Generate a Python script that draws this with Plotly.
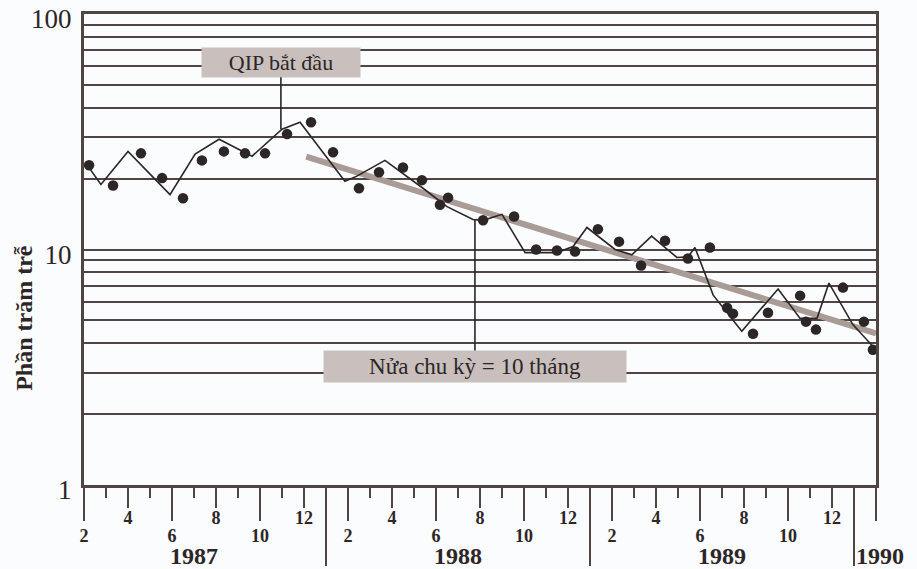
import math
import plotly.graph_objects as go

# ---------------- data ----------------
# x positions are month offsets counted from Feb 1987 (0 = Feb 1987, 36 = Feb 1990)
line_x = [0.05, 0.77, 2.0, 3.91, 5.05, 6.14, 7.64, 9.0, 9.82, 11.86, 12.32, 13.68,
          15.41, 16.5, 17.68, 18.14, 19.0, 20.05, 21.5, 22.23, 22.86, 24.14, 24.9,
          25.8, 26.95, 27.45, 27.77, 28.6, 29.9, 31.55, 32.55, 33.32, 33.86, 34.95, 36.0]
line_y = [23.5, 18.9, 26.1, 17.1, 25.4, 29.4, 24.9, 32.4, 34.7, 19.5, 20.3, 23.9,
          18.2, 15.2, 13.4, 13.3, 14.1, 9.7, 9.7, 10.3, 12.4, 10.0, 9.5,
          11.4, 9.25, 9.3, 10.2, 6.4, 4.5, 6.8, 5.1, 5.1, 7.2, 4.8, 3.75]

dot_x = [0.23, 1.32, 2.59, 3.55, 4.5, 5.36, 6.36, 7.32, 8.23, 9.23, 10.32, 11.32,
         12.5, 13.41, 14.5, 15.36, 16.18, 16.55, 18.14, 19.55, 20.55, 21.5, 22.32,
         23.36, 24.32, 25.32, 26.41, 27.45, 28.45, 29.23, 29.5, 30.41, 31.09, 32.55,
         32.82, 33.27, 34.5, 35.45, 35.86]
dot_y = [22.8, 18.7, 25.6, 20.1, 16.5, 23.9, 26.1, 25.6, 25.6, 30.9, 34.7, 25.9,
         18.2, 21.3, 22.3, 19.7, 15.5, 16.6, 13.3, 13.8, 10.0, 9.9, 9.8,
         12.2, 10.8, 8.55, 10.9, 9.16, 10.2, 5.66, 5.34, 4.39, 5.39, 6.37,
         4.94, 4.57, 6.89, 4.94, 3.75]

trend_x = [10.1, 36.0]
trend_y = [24.8, 4.4]

years = [1987, 1988, 1989]
upper_months = [4, 8, 12]        # labels on the short ticks
lower_months = [2, 6, 10]        # labels on the long ticks
minor_months = [3, 5, 7, 9, 11]
year_labels = ["1987", "1988", "1989", "1990"]

y_tick_vals = [1, 2, 3, 4, 5, 6, 7, 8, 9, 10, 20, 30, 40, 50, 60, 70, 80, 90, 100]
y_tick_text = ["1", "", "", "", "", "", "", "", "", "10", "", "", "", "", "", "", "", "", "100"]

qip_label = "QIP bắt đầu"
qip_point = (8.95, 32.4)
half_label = "Nửa chu kỳ = 10 tháng"
half_point = (17.77, 13.4)
y_title = "Phần trăm trễ"


def idx(year, month):
    return (year - 1987) * 12 + month - 2


upper_vals = [idx(y, m) for y in years for m in upper_months]
upper_text = [str(m) for y in years for m in upper_months]
lower_vals = [idx(y, m) for y in years for m in lower_months] + [idx(1990, 2)]
lower_text = [str(m) for y in years for m in lower_months] + [""]
minor_vals = [idx(y, m) for y in years for m in minor_months]
sep_vals = [idx(1988, 1), idx(1989, 1), idx(1990, 1)]
year_pos = [idx(1987, 7), idx(1988, 7), idx(1989, 7), idx(1990, 1)]

# ---------------- style ----------------
DARK = "#2c2627"
GRID = "#4f4542"
SERIF = "Liberation Serif"
XR = [0, 36]

fig = go.Figure()
fig.add_trace(go.Scatter(x=trend_x, y=trend_y, mode="lines",
                         line=dict(color="#a99b96", width=6), hoverinfo="skip"))
fig.add_trace(go.Scatter(x=line_x, y=line_y, mode="lines",
                         line=dict(color=DARK, width=1.6), hoverinfo="skip"))
fig.add_trace(go.Scatter(x=dot_x, y=dot_y, mode="markers", cliponaxis=False,
                         marker=dict(color=DARK, size=10.5), hoverinfo="skip"))
# empty traces so that the overlaid tick axes get drawn
fig.add_trace(go.Scatter(x=[], y=[], xaxis="x2", yaxis="y", hoverinfo="skip"))
fig.add_trace(go.Scatter(x=[], y=[], xaxis="x3", yaxis="y", hoverinfo="skip"))

tickfont = dict(family=SERIF, size=18, color=DARK, weight="bold")

fig.update_layout(
    width=917, height=569,
    margin=dict(l=84, r=41, t=14, b=84, autoexpand=False),
    paper_bgcolor="#fbfcfd", plot_bgcolor="#fbfcfd",
    showlegend=False,
    xaxis=dict(range=XR, tickmode="array", tickvals=upper_vals, ticktext=upper_text,
               ticks="outside", ticklen=20, tickwidth=2, tickcolor=GRID,
               showgrid=False, zeroline=False, showline=True, linewidth=3,
               linecolor=GRID, mirror=True, tickfont=tickfont, ticklabelstandoff=-6,
               automargin=False,
               minor=dict(tickmode="array", tickvals=minor_vals, ticks="outside",
                          ticklen=10, tickwidth=2, tickcolor=GRID, showgrid=False)),
    xaxis2=dict(range=XR, overlaying="x", anchor="y", side="bottom",
                tickmode="array", tickvals=lower_vals, ticktext=lower_text,
                ticks="outside", ticklen=35, tickwidth=2, tickcolor=GRID,
                showgrid=False, zeroline=False, showline=False, tickfont=tickfont,
                ticklabelstandoff=-1, automargin=False),
    xaxis3=dict(range=XR, overlaying="x", anchor="y", side="bottom",
                tickmode="array", tickvals=sep_vals, ticktext=["", "", ""],
                ticks="outside", ticklen=80, tickwidth=2, tickcolor=GRID,
                showgrid=False, zeroline=False, showline=False, showticklabels=False,
                automargin=False),
    yaxis=dict(type="log", range=[0, 2], tickmode="array", tickvals=y_tick_vals,
               ticktext=y_tick_text, ticks="", showgrid=True, gridcolor=GRID,
               gridwidth=2, showline=True, linewidth=3, linecolor=GRID, mirror=True,
               zeroline=False, tickfont=dict(family=SERIF, size=27, color=DARK),
               ticklabelstandoff=4, ticklabelshift=5, ticklabeloverflow="allow",
               automargin=False),
)

annotations = []
for lbl, xp in zip(year_labels, year_pos):
    annotations.append(dict(
        text=lbl, x=xp, xref="x", y=0, yref="paper", yshift=-71,
        xanchor="left" if lbl == "1990" else "center", yanchor="middle",
        showarrow=False, font=dict(family=SERIF, size=24, color=DARK, weight="bold")))

annotations.append(dict(
    text=qip_label, x=qip_point[0], y=math.log10(qip_point[1]),
    xref="x", yref="y", showarrow=True, arrowhead=0, arrowwidth=1.6,
    arrowcolor=DARK, ax=0, ay=-67, bgcolor="#c9c0bd", borderpad=0,
    width=158, height=29, font=dict(family=SERIF, size=22, color=DARK)))
annotations.append(dict(
    text=half_label, x=half_point[0], y=math.log10(half_point[1]),
    xref="x", yref="y", showarrow=True, arrowhead=0, arrowwidth=1.6,
    arrowcolor=DARK, ax=0, ay=147, bgcolor="#c9c0bd", borderpad=0,
    width=302, height=31, font=dict(family=SERIF, size=23, color=DARK)))
annotations.append(dict(
    text=y_title, x=0, xref="paper", xshift=-60, y=0.355, yref="paper",
    textangle=-90, showarrow=False, xanchor="center", yanchor="middle",
    font=dict(family=SERIF, size=24, color=DARK, weight="bold")))

fig.update_layout(annotations=annotations)
fig.write_html("out.html", config={"displayModeBar": False},
               post_script="document.body.style.margin='0';"
                           "document.body.style.overflow='hidden';")
